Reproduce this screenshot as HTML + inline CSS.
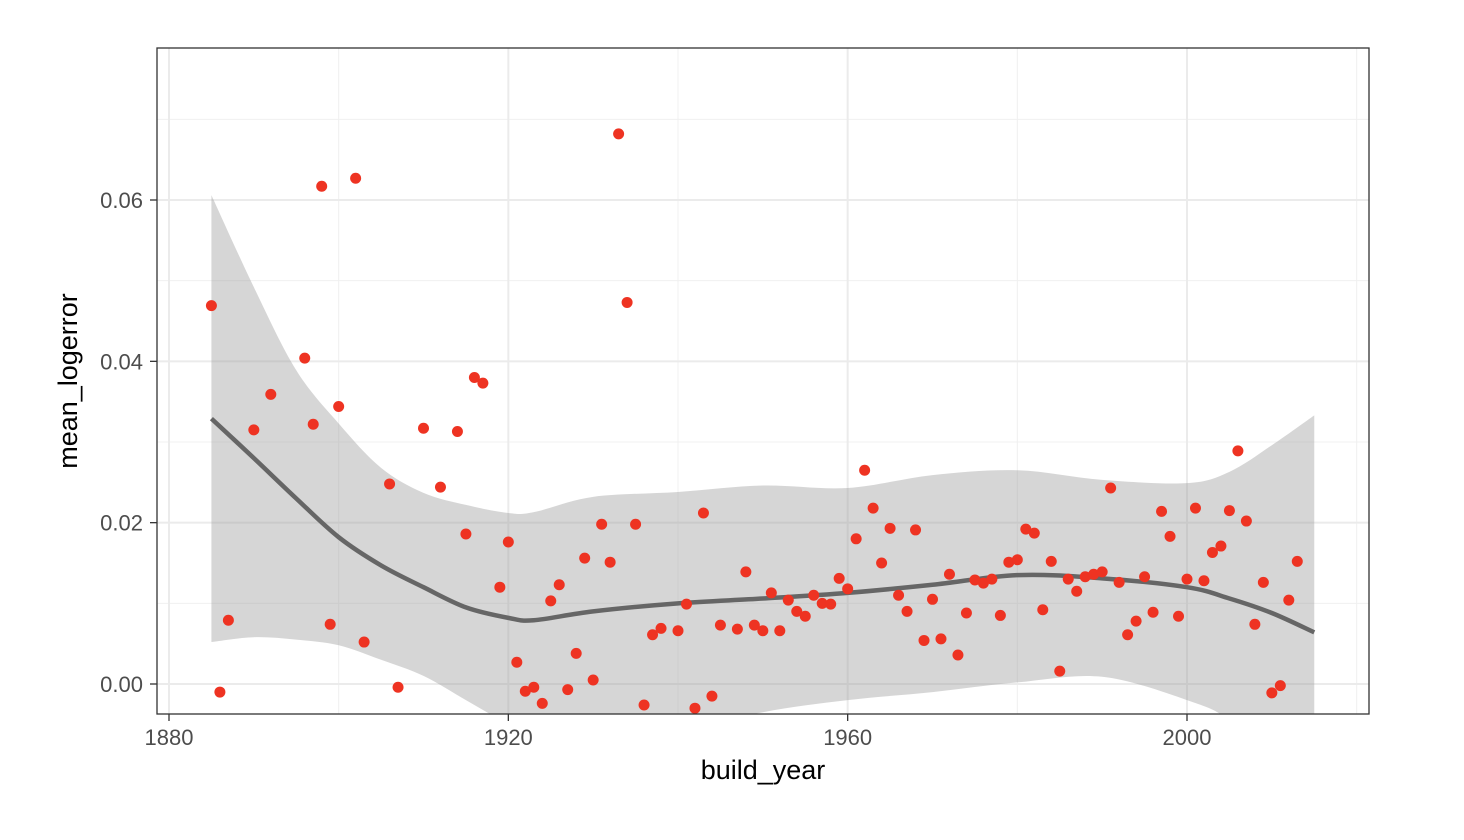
<!DOCTYPE html>
<html><head><meta charset="utf-8">
<style>
html,body{margin:0;padding:0;background:#fff;}
svg{display:block;font-family:"Liberation Sans",sans-serif;}
</style></head>
<body>
<svg id="chart" width="1464" height="840" xmlns="http://www.w3.org/2000/svg">
<defs><clipPath id="pc"><rect x="157" y="48" width="1212" height="666"/></clipPath></defs>
<rect x="157" y="48" width="1212" height="666" fill="#fff"/>
<g id="grid"></g>
<g id="ribbon" clip-path="url(#pc)"></g>
<g id="smooth" clip-path="url(#pc)"></g>
<g id="points" clip-path="url(#pc)"></g>
<rect x="157" y="48" width="1212" height="666" fill="none" stroke="#333" stroke-width="1.3"/>
<g id="axes"></g>
<text x="763" y="779" text-anchor="middle" font-size="27" fill="#000">build_year</text>
<text transform="translate(77,381) rotate(-90)" text-anchor="middle" font-size="27" fill="#000">mean_logerror</text>
</svg>
<script>
const years=[1885,1886,1887,1890,1892,1896,1897,1898,1899,1900,1902,1903,1906,1907,1910,1912,1914,1915,1916,1917,1919,1920,1921,1922,1923,1924,1925,1926,1927,1928,1929,1930,1931,1932,1933,1934,1935,1936,1937,1938,1940,1941,1942,1943,1944,1945,1947,1948,1949,1950,1951,1952,1953,1954,1955,1956,1957,1958,1959,1960,1961,1962,1963,1964,1965,1966,1967,1968,1969,1970,1971,1972,1973,1974,1975,1976,1977,1978,1979,1980,1981,1982,1983,1984,1985,1986,1987,1988,1989,1990,1991,1992,1993,1994,1995,1996,1997,1998,1999,2000,2001,2002,2003,2004,2005,2006,2007,2008,2009,2010,2011,2012,2013];
const values=[0.0469,-0.0010,0.0079,0.0315,0.0359,0.0404,0.0322,0.0617,0.0074,0.0344,0.0627,0.0052,0.0248,-0.0004,0.0317,0.0244,0.0313,0.0186,0.0380,0.0373,0.0120,0.0176,0.0027,-0.0009,-0.0004,-0.0024,0.0103,0.0123,-0.0007,0.0038,0.0156,0.0005,0.0198,0.0151,0.0682,0.0473,0.0198,-0.0026,0.0061,0.0069,0.0066,0.0099,-0.0030,0.0212,-0.0015,0.0073,0.0068,0.0139,0.0073,0.0066,0.0113,0.0066,0.0104,0.0090,0.0084,0.0110,0.0100,0.0099,0.0131,0.0118,0.0180,0.0265,0.0218,0.0150,0.0193,0.0110,0.0090,0.0191,0.0054,0.0105,0.0056,0.0136,0.0036,0.0088,0.0129,0.0125,0.0130,0.0085,0.0151,0.0154,0.0192,0.0187,0.0092,0.0152,0.0016,0.0130,0.0115,0.0133,0.0136,0.0139,0.0243,0.0126,0.0061,0.0078,0.0133,0.0089,0.0214,0.0183,0.0084,0.0130,0.0218,0.0128,0.0163,0.0171,0.0215,0.0289,0.0202,0.0074,0.0126,-0.0011,-0.0002,0.0104,0.0152];
const fitYears=[1885,1890,1895,1900,1905,1910,1915,1920,1923,1930,1940,1950,1960,1970,1980,1990,2000,2005,2010,2015];
const fitValues=[0.0329,0.0280,0.0230,0.0182,0.0147,0.0120,0.0095,0.0082,0.0079,0.0090,0.0100,0.0106,0.0113,0.0123,0.0135,0.0131,0.0120,0.0106,0.0088,0.0064];
const fitUpper=[0.0606,0.0492,0.0389,0.0323,0.0268,0.0237,0.0222,0.0212,0.0213,0.0232,0.0238,0.0246,0.0243,0.0259,0.0265,0.0253,0.0249,0.0263,0.0296,0.0333];
const fitLower=[0.0052,0.0058,0.0055,0.0048,0.0030,0.0010,-0.0020,-0.0050,-0.0065,-0.0080,-0.0060,-0.0035,-0.0020,-0.0010,0.0002,0.0009,-0.0020,-0.0045,-0.0100,-0.0150];
const xMajor=[1880,1920,1960,2000];
const xMinor=[1900,1940,1980,2020];
const yMajor=[0,0.02,0.04,0.06];
const yMinor=[0.01,0.03,0.05,0.07];
const yLabels=["0.00","0.02","0.04","0.06"];

const NS="http://www.w3.org/2000/svg";
const X=v=>169+(v-1880)*(1187-169)/120;
const Y=v=>684-v*(684-200)/0.06;
function mk(tag,attrs,parent){const e=document.createElementNS(NS,tag);for(const k in attrs)e.setAttribute(k,attrs[k]);parent.appendChild(e);return e;}
function smoothPath(pts){let d="M"+pts[0][0]+","+pts[0][1];for(let i=0;i<pts.length-1;i++){const p0=pts[Math.max(0,i-1)],p1=pts[i],p2=pts[i+1],p3=pts[Math.min(pts.length-1,i+2)];d+=" C"+(p1[0]+(p2[0]-p0[0])/6)+","+(p1[1]+(p2[1]-p0[1])/6)+" "+(p2[0]-(p3[0]-p1[0])/6)+","+(p2[1]-(p3[1]-p1[1])/6)+" "+p2[0]+","+p2[1];}return d;}

const grid=document.getElementById('grid');
xMinor.forEach(v=>{const l=mk('line',{x1:X(v),x2:X(v),y1:48,y2:714,stroke:'#f0f0f0','stroke-width':1},grid);});
yMinor.forEach(v=>{const l=mk('line',{x1:157,x2:1369,y1:Y(v),y2:Y(v),stroke:'#f0f0f0','stroke-width':1},grid);});
xMajor.forEach(v=>{const l=mk('line',{x1:X(v),x2:X(v),y1:48,y2:714,stroke:'#ebebeb','stroke-width':2},grid);});
yMajor.forEach(v=>{const l=mk('line',{x1:157,x2:1369,y1:Y(v),y2:Y(v),stroke:'#ebebeb','stroke-width':2},grid);});

const up=fitYears.map((y,i)=>[X(y),Y(fitUpper[i])]);
const lo=fitYears.map((y,i)=>[X(y),Y(fitLower[i])]).reverse();
let d=smoothPath(up);d+=" L"+lo[0][0]+","+lo[0][1]+smoothPath(lo).replace(/^M[^ ]+/,"")+" Z";
const rib=mk('path',{d:d,fill:'#999',opacity:0.4},document.getElementById('ribbon'));



const ln=mk('path',{d:smoothPath(fitYears.map((y,i)=>[X(y),Y(fitValues[i])])),fill:'none',stroke:'#666','stroke-width':4.5},document.getElementById('smooth'));



const pg=document.getElementById('points');
years.forEach((y,i)=>{const c=mk('circle',{cx:X(y),cy:Y(values[i]),r:5.5,fill:'#ee3322'},pg);});

const ax=document.getElementById('axes');
xMajor.forEach(v=>{const t=mk('line',{x1:X(v),x2:X(v),y1:714,y2:721,stroke:'#333','stroke-width':1.3},ax);
const tx=mk('text',{x:X(v),y:745,'text-anchor':'middle','font-size':22,fill:'#4d4d4d'},ax);tx.textContent=v;});
yMajor.forEach((v,i)=>{const t=mk('line',{x1:150,x2:157,y1:Y(v),y2:Y(v),stroke:'#333','stroke-width':1.3},ax);
const tx=mk('text',{x:143,y:Y(v)+8,'text-anchor':'end','font-size':22,fill:'#4d4d4d'},ax);tx.textContent=yLabels[i];});
</script>
</body></html>
